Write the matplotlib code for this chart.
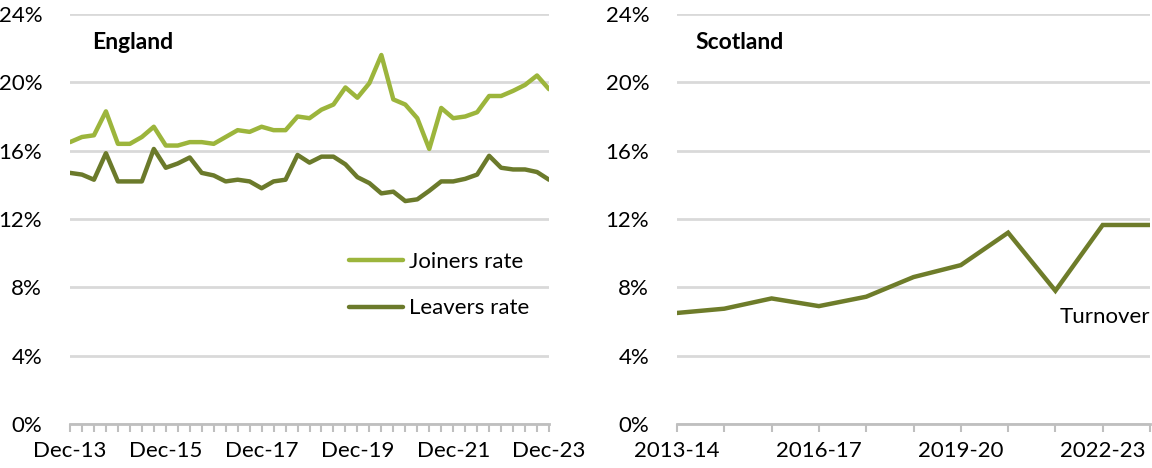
import matplotlib
matplotlib.use("Agg")
import matplotlib.pyplot as plt
import numpy as np
from matplotlib.ticker import FuncFormatter, FixedLocator

plt.rcParams['font.family'] = ['Lato', 'DejaVu Sans']

# ---- data ----
eng_labels = ["Dec-13", "Dec-15", "Dec-17", "Dec-19", "Dec-21", "Dec-23"]
joiners = [16.5, 16.8, 16.9, 18.3, 16.4, 16.4, 16.8, 17.4, 16.3, 16.3,
           16.5, 16.5, 16.4, 16.8, 17.2, 17.1, 17.4, 17.2, 17.2, 18.0,
           17.9, 18.4, 18.7, 19.7, 19.1, 19.95, 21.6, 19.0, 18.7, 17.9,
           16.1, 18.5, 17.9, 18.0, 18.25, 19.2, 19.2, 19.5, 19.85, 20.4, 19.6]
leavers = [14.7, 14.6, 14.3, 15.85, 14.2, 14.2, 14.2, 16.1, 15.0, 15.25,
           15.6, 14.7, 14.55, 14.2, 14.3, 14.2, 13.8, 14.2, 14.3, 15.75,
           15.3, 15.65, 15.65, 15.2, 14.45, 14.1, 13.5, 13.6, 13.05, 13.15,
           13.65, 14.2, 14.2, 14.35, 14.6, 15.7, 15.0, 14.9, 14.9, 14.75, 14.3]
sco_years = ["2013-14", "2014-15", "2015-16", "2016-17", "2017-18", "2018-19",
             "2019-20", "2020-21", "2021-22", "2022-23", "2023-24"]
turnover = [6.5, 6.75, 7.35, 6.9, 7.45, 8.6, 9.3, 11.2, 7.8, 11.65, 11.65]
yticks = [0, 4, 8, 12, 16, 20, 24]

c_join = "#9cb53c"
c_leave = "#6b7a2b"
c_turn = "#6e7c2a"
grid_c = "#d9d9d9"
axis_c = "#bfbfbf"
FS = 16

fig = plt.figure(figsize=(11.52, 4.68), dpi=100)
ax1 = fig.add_axes([70/1152, 1-424/468, (549-70)/1152, (424-14)/468])
ax2 = fig.add_axes([677/1152, 1-424/468, (1150-677)/1152, (424-14)/468])

def style(ax, n):
    ax.set_ylim(0, 24)
    ax.set_xlim(0, n - 1)
    ax.set_yticks(yticks)
    ax.yaxis.set_major_formatter(FuncFormatter(lambda v, p: f"{int(v)}%"))
    ax.grid(axis='y', color=grid_c, lw=2)
    ax.set_axisbelow(True)
    for s in ['top', 'right', 'left']:
        ax.spines[s].set_visible(False)
    ax.spines['bottom'].set_color(axis_c)
    ax.spines['bottom'].set_linewidth(2)
    ax.spines['bottom'].set_zorder(1.5)
    ax.tick_params(axis='y', length=0, pad=20, labelsize=FS, labelcolor='black')
    ax.tick_params(axis='x', which='both', length=6, width=1.5, color=axis_c,
                   direction='out', labelsize=FS, pad=6)

# England
x1 = np.arange(len(joiners))
ax1.plot(x1, joiners, color=c_join, lw=3.2, solid_joinstyle='round',
         solid_capstyle='round', label="Joiners rate", zorder=3)
ax1.plot(x1, leavers, color=c_leave, lw=3.2, solid_joinstyle='round',
         solid_capstyle='round', label="Leavers rate", zorder=3)
style(ax1, len(joiners))
ax1.set_xticks(np.arange(0, len(joiners), 8))
ax1.set_xticklabels(eng_labels)
ax1.xaxis.set_minor_locator(FixedLocator(x1))
ax1.text(0.047, 0.93, "England", transform=ax1.transAxes, fontsize=FS + 0.5,
         fontweight='bold', va='center', ha='left')
leg = ax1.legend(loc='upper left', bbox_to_anchor=(0.582, 0.42), frameon=False,
                 fontsize=FS, handlelength=2.45, handletextpad=0.25,
                 labelspacing=1.2, borderaxespad=0, borderpad=0)

# Scotland
x2 = np.arange(len(turnover))
ax2.plot(x2, turnover, color=c_turn, lw=3.2, solid_joinstyle='miter',
         solid_capstyle='round', zorder=3)
style(ax2, len(turnover))
ax2.set_xticks(np.arange(0, len(turnover), 3))
ax2.set_xticklabels([sco_years[i] for i in range(0, len(turnover), 3)])
ax2.xaxis.set_minor_locator(FixedLocator(x2))
ax2.text(0.04, 0.93, "Scotland", transform=ax2.transAxes, fontsize=FS + 0.5,
         fontweight='bold', va='center', ha='left')
ax2.text(1.0, 0.262, "Turnover", transform=ax2.transAxes, fontsize=FS,
         va='center', ha='right')

fig.savefig("out.png", dpi=100)
